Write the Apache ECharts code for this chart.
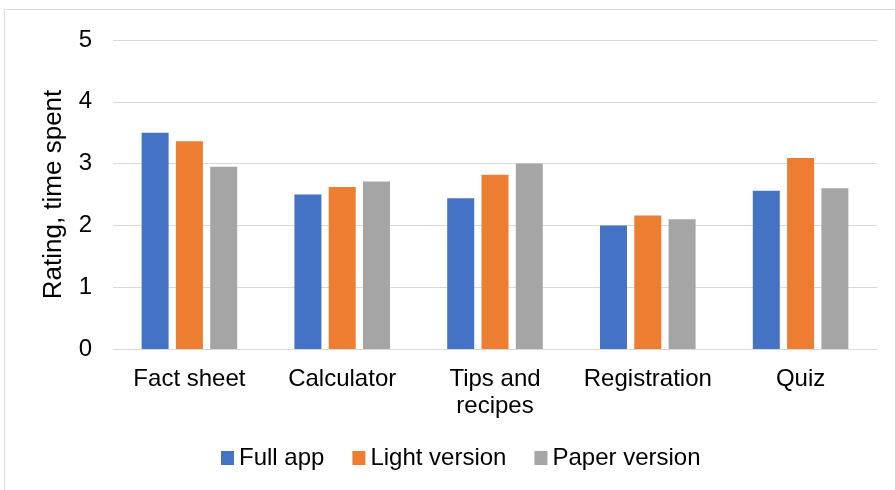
<!DOCTYPE html>
<html>
<head>
<meta charset="utf-8">
<script src="https://cdn.jsdelivr.net/npm/echarts@6/dist/echarts.min.js"></script>
<style>
  html, body { margin: 0; padding: 0; background: #fff; }
  #chart { width: 895px; height: 490px; }
</style>
</head>
<body>
<div id="chart"></div>
<script>
// Features of the app and their scores
const categories = ['Fact sheet', 'Calculator', 'Tips and\nrecipes', 'Registration', 'Quiz'];
const fullApp = [3.5, 2.5, 2.44, 2.0, 2.56];
const lightVersion = [3.36, 2.62, 2.82, 2.16, 3.09];
const paperVersion = [2.95, 2.71, 3.0, 2.1, 2.6];
const yTicks = [0, 1, 2, 3, 4, 5];

const font = 'Liberation Sans, Arial, sans-serif';
const chart = echarts.init(document.getElementById('chart'));

function bar(name, data, color) {
  return {
    name: name,
    type: 'bar',
    data: data,
    barWidth: 27,
    barGap: '27%',
    itemStyle: { color: color }
  };
}

chart.setOption({
  animation: false,
  textStyle: { fontFamily: font },
  graphic: [{
    type: 'rect',
    shape: { x: 4.5, y: 9.5, width: 900, height: 500 },
    style: { fill: 'none', stroke: '#d9d9d9', lineWidth: 1 },
    silent: true
  }],
  legend: {
    top: 441,
    left: 216,
    itemWidth: 13,
    itemHeight: 14,
    itemGap: 28,
    icon: 'rect',
    textStyle: { fontSize: 24, color: '#000', fontFamily: font },
    data: ['Full app', 'Light version', 'Paper version']
  },
  grid: { left: 113, right: 18, top: 40, bottom: 141 },
  xAxis: {
    type: 'category',
    data: categories,
    axisLine: { lineStyle: { color: '#d9d9d9', width: 1 } },
    axisTick: { show: false },
    axisLabel: { interval: 0, fontSize: 24, color: '#000', margin: 17, lineHeight: 27, fontFamily: font }
  },
  yAxis: {
    type: 'value',
    min: yTicks[0],
    max: yTicks[yTicks.length - 1],
    interval: 1,
    name: 'Rating, time spent',
    nameLocation: 'middle',
    nameGap: 46,
    nameTextStyle: { fontSize: 26, color: '#000', fontFamily: font },
    axisLabel: { fontSize: 24, color: '#000', margin: 21, fontFamily: font },
    axisLine: { show: false },
    axisTick: { show: false },
    splitLine: { lineStyle: { color: '#d9d9d9', width: 1 } }
  },
  series: [
    bar('Full app', fullApp, '#4472C4'),
    bar('Light version', lightVersion, '#ED7D31'),
    bar('Paper version', paperVersion, '#A5A5A5')
  ]
});
</script>
</body>
</html>
